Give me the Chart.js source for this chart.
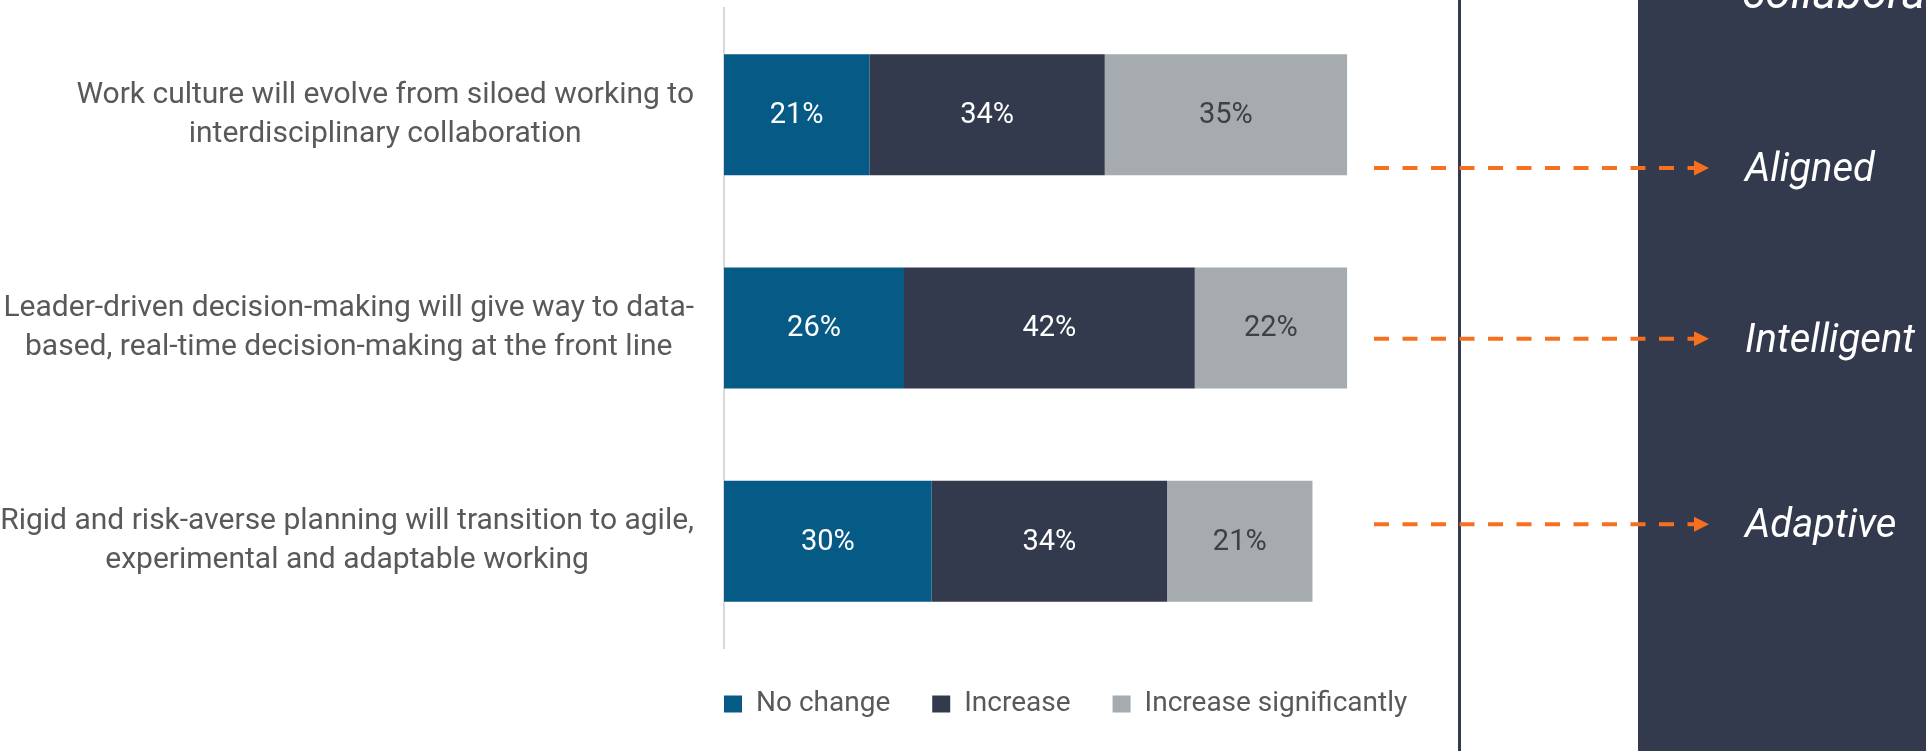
<!DOCTYPE html>
<html>
<head>
<meta charset="utf-8">
<script src="https://cdn.jsdelivr.net/npm/chart.js@4.4.1/dist/chart.umd.min.js"></script>
<style>
  body { margin: 0; background: #fff; }
  canvas { display: block; }
</style>
</head>
<body>
<canvas id="chartShift" width="1926" height="751"></canvas>
<script>
const categories = [
  ['Work culture will evolve from siloed working to', 'interdisciplinary collaboration'],
  ['Leader-driven decision-making will give way to data-', 'based, real-time decision-making at the front line'],
  ['Rigid and risk-averse planning will transition to agile,', 'experimental and adaptable working']
];
const seriesNames = ['No change', 'Increase', 'Increase significantly'];
const noChange = [21, 26, 30];
const increase = [34, 42, 34];
const increaseSignificantly = [35, 22, 21];
const outcomes = ['Aligned', 'Intelligent', 'Adaptive'];
const outcomeAbove = 'collaborative';
// where each arrow sits on the category axis (fraction of a category)
const outcomePositions = [0.25, 1.05, 1.92];

const labelColors = ['#ffffff', '#ffffff', '#404040'];
const textFont = 'Roboto';
const legendGap = 42;

// labels inside the bars + category text + the right hand panel
const decorations = {
  id: 'decorations',
  beforeDraw(chart) {
    const ctx = chart.ctx;
    ctx.save();
    // dark panel and vertical rule
    ctx.fillStyle = '#333a4d';
    ctx.fillRect(1638, 0, chart.width - 1638, chart.height);
    ctx.fillRect(1458, 0, 3, chart.height);
    ctx.restore();
  },
  afterDatasetsDraw(chart) {
    const ctx = chart.ctx;
    ctx.save();
    ctx.font = '29px ' + textFont;
    ctx.textAlign = 'center';
    ctx.textBaseline = 'middle';
    chart.data.datasets.forEach((ds, i) => {
      const meta = chart.getDatasetMeta(i);
      ctx.fillStyle = labelColors[i];
      meta.data.forEach((bar, j) => {
        ctx.fillText(ds.data[j] + '%', (bar.x + bar.base) / 2, bar.y + 1);
      });
    });
    ctx.restore();
  },
  afterDraw(chart) {
    const ctx = chart.ctx;
    const y = chart.scales.y;
    const area = chart.chartArea;
    ctx.save();
    // category labels: block right aligned, lines centred in the block
    ctx.font = '30px ' + textFont;
    ctx.fillStyle = '#595959';
    ctx.textAlign = 'center';
    ctx.textBaseline = 'middle';
    categories.forEach((lines, i) => {
      const yc = y.getPixelForValue(i);
      const widest = Math.max(...lines.map(l => ctx.measureText(l).width));
      const xc = area.left - 30 - widest / 2;
      lines.forEach((l, k) => {
        ctx.fillText(l, xc, yc + (k - (lines.length - 1) / 2) * 39);
      });
    });
    // dashed orange arrows
    outcomePositions.forEach((pos, i) => {
      const ya = y.getPixelForValue(pos);
      ctx.strokeStyle = '#f7701f';
      ctx.fillStyle = '#f7701f';
      ctx.lineWidth = 4;
      ctx.setLineDash([15, 13.5]);
      ctx.beginPath();
      ctx.moveTo(1374, ya);
      ctx.lineTo(1696, ya);
      ctx.stroke();
      ctx.setLineDash([]);
      ctx.beginPath();
      ctx.moveTo(1694, ya - 7.5);
      ctx.lineTo(1709, ya);
      ctx.lineTo(1694, ya + 7.5);
      ctx.closePath();
      ctx.fill();
      ctx.font = 'italic 40px ' + textFont;
      ctx.fillStyle = '#ffffff';
      ctx.textAlign = 'left';
      ctx.textBaseline = 'alphabetic';
      ctx.fillText(outcomes[i], 1745, ya + 13);
    });
    // the label above, mostly cut off by the top edge
    ctx.font = 'italic 46px ' + textFont;
    ctx.fillStyle = '#ffffff';
    ctx.textAlign = 'left';
    ctx.textBaseline = 'alphabetic';
    ctx.fillText(outcomeAbove, 1742, 8);
    ctx.restore();
  }
};

const ctxShift = document.getElementById('chartShift').getContext('2d');
const config = {
  type: 'bar',
  data: {
    labels: categories,
    datasets: [{
      label: seriesNames[0],
      data: noChange,
      backgroundColor: '#065a86'
    }, {
      label: seriesNames[1],
      data: increase,
      backgroundColor: '#333a4d'
    }, {
      label: seriesNames[2],
      data: increaseSignificantly,
      backgroundColor: '#a5abae'
    }]
  },
  options: {
    indexAxis: 'y',
    responsive: false,
    animation: false,
    devicePixelRatio: 1,
    layout: {
      // chart area: x 724 -> 1624 (0..130 %), y 8 -> 648
      padding: { left: 724 - legendGap, right: 302, top: 8, bottom: 23 }
    },
    datasets: {
      bar: {
        categoryPercentage: 1,
        barPercentage: 0.567,
        borderWidth: 0
      }
    },
    scales: {
      x: {
        stacked: true,
        display: false,
        min: 0,
        max: 130
      },
      y: {
        stacked: true,
        afterFit: (scale) => { scale.width = legendGap; },
        ticks: { display: false },
        grid: { display: false, drawTicks: false },
        border: { display: true, color: '#d9d9d9', width: 2 }
      }
    },
    plugins: {
      legend: {
        display: true,
        position: 'bottom',
        align: 'start',
        fullSize: true,
        labels: {
          boxWidth: 18,
          boxHeight: 17,
          padding: legendGap,
          color: '#595959',
          font: { family: textFont, size: 28 }
        }
      },
      tooltip: { enabled: false }
    }
  },
  plugins: [decorations]
};
var shiftChart = new Chart(ctxShift, config);
</script>
</body>
</html>
